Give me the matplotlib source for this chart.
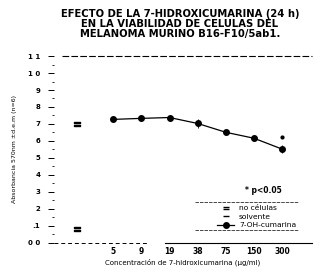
import matplotlib
matplotlib.use('Agg')
import matplotlib.pyplot as plt

# concentraciones de 7-hidroxicumarina (ug/ml)
conc_labels = ['5', '9', '19', '38', '75', '150', '300']
conc_pos = [0, 1, 2, 3, 4, 5, 6]
hidroxi = [0.727, 0.733, 0.738, 0.703, 0.651, 0.616, 0.552]
hidroxi_err = [0.006, 0.006, 0.006, 0.025, 0.008, 0.008, 0.025]

# controles
ctrl_pos = -1.27
sin_celulas = [0.70, 0.08]
solvente_300 = 0.622

yticks = [0.0, 0.1, 0.2, 0.3, 0.4, 0.5, 0.6, 0.7, 0.8, 0.9, 1.0, 1.1]
ylabels = ['0 0', '.1', '2', '3', '4', '5', '6', '7', '8', '9', '1 0', '1 1']

fig = plt.figure(figsize=(3.22, 2.76), dpi=100)
ax = fig.add_axes([0.168, 0.12, 0.80, 0.677])

ax.errorbar(conc_pos, hidroxi, yerr=hidroxi_err, color='black', lw=0.9,
            marker='o', ms=4, elinewidth=0.6, capsize=0, zorder=3)
ax.plot([ctrl_pos] * len(sin_celulas), sin_celulas, ls='none', marker='$=$',
        ms=5, color='black')
ax.plot([conc_pos[-1]], [solvente_300], ls='none', marker='o', ms=2,
        color='black')

ax.set_xlim(-2.1, 7.05)
ax.set_ylim(0, 1.1)

for s in ['left', 'right', 'top', 'bottom']:
    ax.spines[s].set_visible(False)
ax.axhline(1.1, xmin=0.03, xmax=1.0, color='black', lw=0.8, ls=(0, (6, 2)),
           clip_on=False)
ax.axhline(0.0, xmin=0.0, xmax=0.36, color='black', lw=0.7, ls=(0, (4, 3)),
           clip_on=False)
ax.axhline(0.0, xmin=0.43, xmax=1.0, color='black', lw=0.8, clip_on=False)

ax.set_yticks(yticks)
ax.set_yticklabels(ylabels, fontsize=5, fontweight='bold')
ax.set_yticks([v + 0.05 for v in yticks[:-1]], minor=True)
ax.tick_params(axis='y', which='major', length=4, width=0.7, pad=6)
ax.tick_params(axis='y', which='minor', length=1.5, width=0.6)
ax.set_xticks(conc_pos)
ax.set_xticklabels(conc_labels, fontsize=5.5, fontweight='bold')
ax.tick_params(axis='x', length=0, pad=3)

ax.set_xlabel('Concentración de 7-hidroxicumarina (µg/ml)', fontsize=5,
              labelpad=2)
ax.set_ylabel('Absorbancia 570nm ±d.e.m (n=6)', fontsize=4.5,
              labelpad=8)

# leyenda
ax.text(0.74, 0.265, '* p<0.05', transform=ax.transAxes, fontsize=5.5,
        fontweight='bold')
ax.axhline(0.241, xmin=0.547, xmax=0.946, color='black', lw=0.5,
           ls=(0, (5, 1.5)))
ax.axhline(0.076, xmin=0.547, xmax=0.946, color='black', lw=0.5,
           ls=(0, (5, 1.5)))
h1, = ax.plot([], [], ls='none', marker='$=$', ms=4, color='black')
h2, = ax.plot([], [], ls='none', marker='_', ms=4, color='black')
h3, = ax.plot([], [], color='black', marker='o', ms=4, lw=0.9)
leg = ax.legend([h1, h2, h3], ['no células', 'solvente', '7-OH-cumarina'],
                loc='lower right', bbox_to_anchor=(0.96, 0.05), fontsize=5.4,
                frameon=False, handlelength=2.2, labelspacing=0.3,
                borderpad=0.2, handletextpad=0.7)

fig.text(0.559, 0.913, 'EFECTO DE LA 7-HIDROXICUMARINA (24 h)\n'
         'EN LA VIABILIDAD DE CELULAS DEL\n'
         'MELANOMA MURINO B16-F10/5ab1.', ha='center', va='center',
         fontsize=7.2, fontweight='bold', linespacing=0.95)

fig.savefig('out.png', dpi=100)
